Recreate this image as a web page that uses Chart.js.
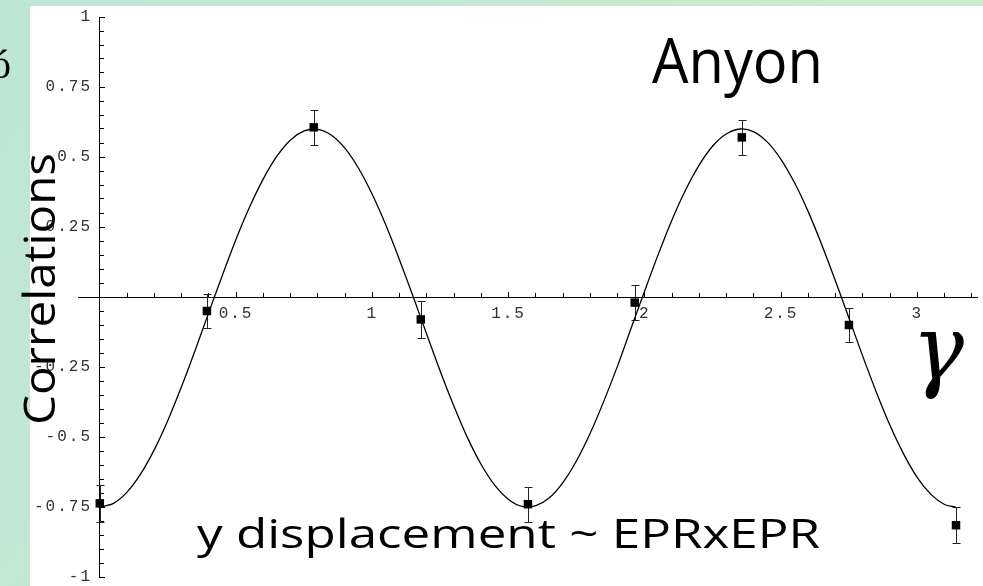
<!DOCTYPE html>
<html>
<head>
<meta charset="utf-8">
<title>Anyon correlations</title>
<script src="https://cdn.jsdelivr.net/npm/chart.js@4.4.0/dist/chart.umd.min.js"></script>
<style>
  html, body { margin: 0; padding: 0; background: #fff; }
  canvas { display: block; }
</style>
</head>
<body>
<canvas id="correlationChart" width="983" height="586"></canvas>
<script>
const curveX = [0, 0.05, 0.1, 0.15, 0.2, 0.25, 0.3, 0.35, 0.4, 0.45, 0.5, 0.55, 0.6, 0.65, 0.7, 0.75,
    0.8, 0.85, 0.9, 0.95, 1.0, 1.05, 1.1, 1.15, 1.2, 1.25, 1.3, 1.35, 1.4, 1.45, 1.5, 1.55,
    1.6, 1.65, 1.7, 1.75, 1.8, 1.85, 1.9, 1.95, 2.0, 2.05, 2.1, 2.15, 2.2, 2.25, 2.3, 2.35,
    2.4, 2.45, 2.5, 2.55, 2.6, 2.65, 2.7, 2.75, 2.8, 2.85, 2.9, 2.95, 3.0, 3.05, 3.1, 3.14];
const curveY = [-0.750, -0.737, -0.697, -0.632, -0.545, -0.440, -0.320, -0.190, -0.055, 0.078, 0.206, 0.322, 0.422, 0.503, 0.561, 0.593,
    0.599, 0.578, 0.531, 0.459, 0.366, 0.256, 0.132, 0.001, -0.134, -0.267, -0.391, -0.504, -0.599, -0.673, -0.723, -0.748,
    -0.745, -0.717, -0.662, -0.584, -0.486, -0.371, -0.246, -0.111, 0.023, 0.154, 0.276, 0.383, 0.472, 0.540, 0.583, 0.600,
    0.590, 0.553, 0.491, 0.407, 0.304, 0.185, 0.056, -0.078, -0.212, -0.341, -0.459, -0.561, -0.645, -0.705, -0.741, -0.750];

// measured points with error bars
const pointX = [0, 0.393, 0.785, 1.178, 1.571, 1.963, 2.356, 2.749, 3.142];
const pointY = [-0.737, -0.05, 0.606, -0.08, -0.74, -0.02, 0.57, -0.10, -0.815];
const pointErr = [0.066, 0.062, 0.063, 0.065, 0.062, 0.063, 0.063, 0.062, 0.065];

const xMajorTicks = [0.5, 1, 1.5, 2, 2.5, 3];
const yMajorTicks = [-1, -0.75, -0.5, -0.25, 0, 0.25, 0.5, 0.75, 1];
const yLabelTicks = [-1, -0.75, -0.5, -0.25, 0.25, 0.5, 0.75, 1];

const tickFont = { family: '"Liberation Mono", "DejaVu Sans Mono", monospace', size: 16 };

function fixedTicks(values) {
    return function(scale) {
        scale.ticks = values.map(v => ({ value: v }));
    };
}

function drawFitted(ctx, text, x, y, width, font) {
    ctx.save();
    ctx.font = font;
    const w = ctx.measureText(text).width;
    ctx.translate(x, y);
    ctx.scale(width / w, 1);
    ctx.textAlign = 'left';
    ctx.textBaseline = 'alphabetic';
    ctx.fillText(text, 0, 0);
    ctx.restore();
}

const framePlugin = {
    id: 'frame',
    beforeDraw(chart) {
        const { ctx, width, height } = chart;
        const g = ctx.createLinearGradient(0, 0, width, height);
        g.addColorStop(0, '#bce6d6');
        g.addColorStop(1, '#d4eec8');
        ctx.save();
        ctx.fillStyle = g;
        ctx.fillRect(0, 0, width, height);
        ctx.fillStyle = '#fff';
        ctx.fillRect(30, 6, width - 30, height - 6);
        ctx.restore();
        ctx.letterSpacing = '2px';
    },
    afterDraw(chart) {
        const ctx = chart.ctx;
        ctx.letterSpacing = '0px';
        ctx.save();
        ctx.fillStyle = '#000';

        // clipped glyph at the frame edge
        ctx.font = '40px "Liberation Serif", serif';
        ctx.fillText('ó', -9, 78);

        ctx.save();
        ctx.translate(55, 425);
        ctx.rotate(-Math.PI / 2);
        drawFitted(ctx, 'Correlations', 0, 0, 272, '44px "Open Sans", sans-serif');
        ctx.restore();

        drawFitted(ctx, 'Anyon', 652, 83, 171, '62px "Open Sans", sans-serif');
        drawFitted(ctx, 'y displacement ~ EPRxEPR', 197, 548, 623, '40px "Open Sans", sans-serif');

        drawFitted(ctx, 'γ', 912, 380, 52, 'italic 92px "DejaVu Serif", serif');
        ctx.restore();
    }
};

const errorBarPlugin = {
    id: 'errorBars',
    beforeDatasetsDraw(chart) {
        const { ctx, scales: { x, y } } = chart;
        ctx.save();
        ctx.strokeStyle = '#222';
        ctx.lineWidth = 1;
        pointX.forEach((v, i) => {
            const px = Math.round(x.getPixelForValue(v)) + 0.5;
            const top = Math.round(y.getPixelForValue(pointY[i] + pointErr[i])) + 0.5;
            const bot = Math.round(y.getPixelForValue(pointY[i] - pointErr[i])) + 0.5;
            ctx.beginPath();
            ctx.moveTo(px, top);
            ctx.lineTo(px, bot);
            ctx.moveTo(px - 4, top);
            ctx.lineTo(px + 4, top);
            ctx.moveTo(px - 4, bot);
            ctx.lineTo(px + 4, bot);
            ctx.stroke();
        });
        ctx.restore();
    }
};

function initCorrelationChart(canvasEl) {
    const ctx = canvasEl.getContext('2d');
    const xRange = { min: -0.08, max: 3.219 };
    const yRange = { min: -1, max: 1 };

    return new Chart(ctx, {
        type: 'scatter',
        data: {
            datasets: [{
                data: curveX.map((v, i) => ({ x: v, y: curveY[i] })),
                showLine: true,
                borderColor: '#000',
                borderWidth: 1.3,
                tension: 0.3,
                pointRadius: 0
            }, {
                data: pointX.map((v, i) => ({ x: v, y: pointY[i] })),
                showLine: false,
                pointStyle: 'rect',
                pointRadius: 6,
                backgroundColor: '#000',
                borderColor: '#000',
                borderWidth: 0
            }]
        },
        options: {
            responsive: false,
            animation: false,
            layout: { padding: { left: 0, right: 0, top: 17, bottom: 9 } },
            plugins: {
                legend: { display: false },
                tooltip: { enabled: false }
            },
            scales: {
                x: {
                    type: 'linear', ...xRange,
                    position: { y: 0 },
                    afterBuildTicks: fixedTicks(xMajorTicks),
                    afterFit: s => { s.height = 0; },
                    border: { display: true, color: '#000', width: 1 },
                    grid: { drawOnChartArea: false, tickLength: -6, color: '#000' },
                    ticks: { font: tickFont, color: '#333', padding: 13, maxRotation: 0, autoSkip: false,
                        callback: v => String(v) }
                },
                xMinor: {
                    type: 'linear', axis: 'x', ...xRange,
                    position: { y: 0 },
                    afterFit: s => { s.height = 0; },
                    border: { display: false },
                    grid: { drawOnChartArea: false, tickLength: -4, color: '#000' },
                    ticks: { display: false, stepSize: 0.1, includeBounds: false, autoSkip: false }
                },
                y: {
                    type: 'linear', ...yRange,
                    position: { x: 0 },
                    afterBuildTicks: fixedTicks(yMajorTicks),
                    afterFit: s => { s.width = 0; },
                    border: { display: true, color: '#000', width: 1 },
                    grid: { drawOnChartArea: false, tickLength: -6, color: '#000' },
                    ticks: { display: false }
                },
                yMinor: {
                    type: 'linear', axis: 'y', ...yRange,
                    position: { x: 0 },
                    afterFit: s => { s.width = 0; },
                    border: { display: false },
                    grid: { drawOnChartArea: false, tickLength: -4, color: '#000' },
                    ticks: { display: false, stepSize: 0.05, includeBounds: false, autoSkip: false }
                },
                yLabels: {
                    type: 'linear', axis: 'y', ...yRange,
                    position: 'left',
                    afterBuildTicks: fixedTicks(yLabelTicks),
                    afterFit: s => { s.width = 78; },
                    border: { display: false },
                    grid: { display: false },
                    // mirrored so the labels are not clipped to the 78px box
                    ticks: { font: tickFont, color: '#333', mirror: true, crossAlign: 'far', padding: -34,
                        autoSkip: false, callback: v => String(v) }
                }
            }
        },
        plugins: [framePlugin, errorBarPlugin]
    });
}

document.addEventListener('DOMContentLoaded', function() {
    initCorrelationChart(document.getElementById('correlationChart'));
});
</script>
</body>
</html>
